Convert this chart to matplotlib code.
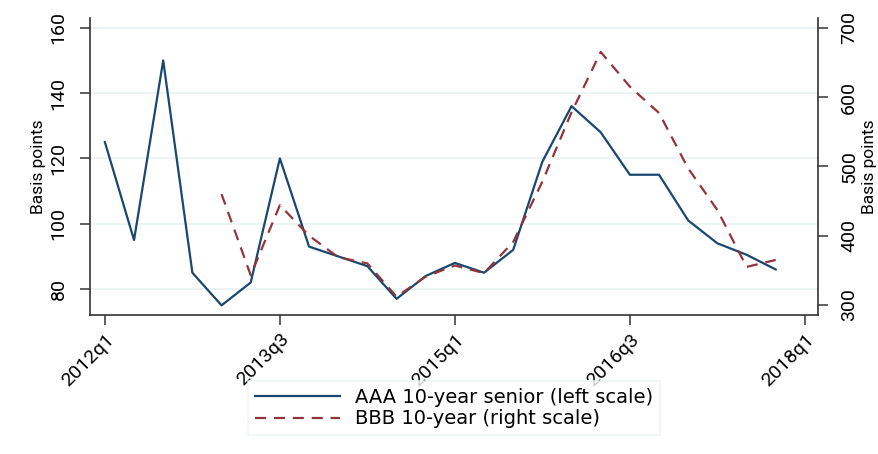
import matplotlib.pyplot as plt
import numpy as np

# quarters from 2012q1 (index 0) to 2017q4 (index 23)
quarters = np.arange(24)
tick_pos = [0, 6, 12, 18, 24]
tick_labels = ["2012q1", "2013q3", "2015q1", "2016q3", "2018q1"]

aaa = [125, 95, 150, 85, 75, 82, 120, 93, 90, 87, 77, 84,
       88, 85, 92, 119, 136, 128, 115, 115, 101, 94, 90.5, 86]
# BBB starts at 2013q1 (index 4)
bbb_start = 4
bbb = [460, 343, 444, 400, 369, 360, 312, 341, 357, 346, 391,
       478, 578, 665, 615, 577, 497, 437, 355, 365]

blue = "#1a476f"
red = "#90353b"
grid_c = "#eaf2f3"

plt.rcParams["font.family"] = ["Roboto", "DejaVu Sans"]

fig = plt.figure(figsize=(8.79, 4.54), dpi=100)
ax = fig.add_axes([90 / 879, 1 - 315 / 454, (818 - 90) / 879, (315 - 18) / 454])
ax2 = ax.twinx()

l1, = ax.plot(quarters, aaa, color=blue, lw=1.6)
l2, = ax2.plot(quarters[bbb_start:bbb_start + len(bbb)], bbb, color=red, lw=1.6,
               dashes=(5, 3.5))

ax.set_xlim(-0.51, 24.45)
ax.set_ylim(72.05, 163)
ax2.set_ylim(285.6, 714)

ax.set_yticks([80, 100, 120, 140, 160])
ax2.set_yticks([300, 400, 500, 600, 700])
ax.set_xticks(tick_pos)
ax.set_xticklabels(tick_labels, rotation=45, ha="right", rotation_mode="anchor")

for a in (ax, ax2):
    a.spines["top"].set_visible(False)
    for s in a.spines.values():
        s.set_color("#333333")
        s.set_linewidth(1.2)
    a.tick_params(length=7, width=1.2, color="#444444", labelsize=14)
ax.tick_params(axis="x", pad=4)
ax.tick_params(axis="y", labelrotation=90, pad=9)
ax2.tick_params(axis="y", labelrotation=90, pad=9)
for lab in ax.get_yticklabels() + ax2.get_yticklabels():
    lab.set_va("center")
ax.spines["right"].set_visible(False)
ax2.spines["left"].set_visible(False)
ax2.spines["bottom"].set_visible(False)

ax.yaxis.grid(True, color=grid_c, lw=1.2)
ax.set_axisbelow(True)

ax.set_ylabel("Basis points", fontsize=12.5, labelpad=3)
ax2.set_ylabel("Basis points", fontsize=12.5, labelpad=3)

leg = fig.legend([l1, l2], ["AAA 10-year senior (left scale)", "BBB 10-year (right scale)"],
                 loc="center", bbox_to_anchor=(454 / 879, 1 - 408 / 454),
                 prop={"family": "DejaVu Sans", "size": 14},
                 frameon=True, fancybox=False, handlelength=4.4,
                 borderpad=0.35, labelspacing=0.15, handletextpad=0.75,
                 borderaxespad=0)
leg.get_frame().set_edgecolor(grid_c)
leg.get_frame().set_linewidth(1.2)

fig.savefig("out.png", dpi=100)
